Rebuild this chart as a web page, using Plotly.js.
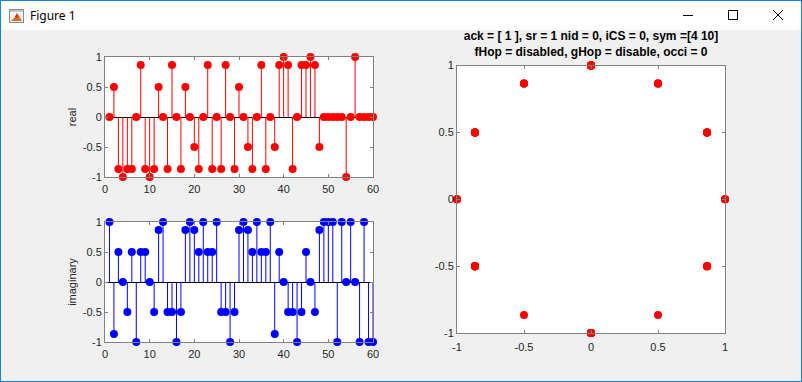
<!DOCTYPE html>
<html>
<head>
<meta charset="utf-8">
<script src="https://cdn.plot.ly/plotly-3.0.1.min.js"></script>
<style>
  html, body { margin: 0; padding: 0; width: 802px; height: 382px; overflow: hidden; background: #f0f0f0; }
  #wrap { position: relative; width: 802px; height: 382px; }
  #chart { position: absolute; left: 0; top: 0; width: 802px; height: 382px; }
  #titlebar { position: absolute; left: 0; top: 0; width: 802px; height: 30px; background: #ffffff; }
  #frame { position: absolute; left: 0; top: 0; width: 800px; height: 380px; border: 1px solid #1883d7; pointer-events: none; }
  #wintitle { position: absolute; left: 30px; top: 7px; font-family: "Noto Sans", "DejaVu Sans", sans-serif; font-size: 12px; color: #000; }
</style>
</head>
<body>
<div id="wrap">
  <div id="chart"></div>
  <div id="titlebar">
    <svg width="802" height="30" style="position:absolute;left:0;top:0">
      <rect x="9.5" y="9.5" width="14" height="13" fill="#f4f4f4" stroke="#8a8a8a" stroke-width="1"/>
      <rect x="10" y="10" width="13" height="2" fill="#b9c9dc"/>
      <polygon points="11,21 15,17 17,13 19,16 22,21" fill="#e36d1c"/>
      <polygon points="15,17 17,13 18,18" fill="#c0392b"/>
      <line x1="683" y1="15.5" x2="693" y2="15.5" stroke="#000" stroke-width="1"/>
      <rect x="728.5" y="10.5" width="9" height="9" fill="none" stroke="#000" stroke-width="1"/>
      <line x1="773" y1="10" x2="783" y2="20" stroke="#000" stroke-width="1"/>
      <line x1="783" y1="10" x2="773" y2="20" stroke="#000" stroke-width="1"/>
    </svg>
    <div id="wintitle">Figure 1</div>
  </div>
  <div id="frame"></div>
</div>
<script>
const sampleIndex = [1,2,3,4,5,6,7,8,9,10,11,12,13,14,15,16,17,18,19,20,
  21,22,23,24,25,26,27,28,29,30,31,32,33,34,35,36,37,38,39,40,
  41,42,43,44,45,46,47,48,49,50,51,52,53,54,55,56,57,58,59,60];

const realVals = [0,0.5,-0.866,-1,-0.866,-0.866,0,0.866,-0.866,-1,
  -0.866,0.5,0,-0.866,0.866,0,-0.866,0.5,0,-0.5,
  -0.866,0,0.866,-0.866,0,-0.866,0.866,0,-0.866,0.5,
  0,-0.5,-0.866,0,0.866,-0.866,0,-0.5,0.866,1,
  0.866,-0.866,0,0.866,0.866,1,0.866,-0.5,0,0,
  0,0,0,-1,0,1,0,0,0,0];

const imagVals = [1,-0.866,0.5,0,-0.5,0.5,-1,0.5,0.5,0,
  -0.5,0.866,1,-0.5,-0.5,-1,-0.5,0.866,1,0.866,
  0.5,1,0.5,0.5,1,-0.5,-0.5,-1,-0.5,0.866,
  1,0.866,0.5,1,0.5,0.5,1,-0.866,0.5,0,
  -0.5,-0.5,-1,-0.5,0.5,0,-0.5,0.866,1,1,
  1,-1,1,0,1,0,-1,1,-1,-1];

const stemTicks = [0,10,20,30,40,50,60];
const valueTicks = [-1,-0.5,0,0.5,1];
const valueTickText = ['-1','-0.5','0','0.5','1'];

const titleText = 'ack = [ 1 ], sr = 1 nid = 0, iCS = 0, sym =[4 10]<br>fHop = disabled, gHop = disable, occi = 0';

function stemLines(xs, ys) {
  const lx = [], ly = [];
  for (let i = 0; i < xs.length; i++) {
    lx.push(xs[i], xs[i], null);
    ly.push(0, ys[i], null);
  }
  return {x: lx, y: ly};
}

const rs = stemLines(sampleIndex, realVals);
const is = stemLines(sampleIndex, imagVals);

const traces = [
  {x: rs.x, y: rs.y, xaxis: 'x', yaxis: 'y', mode: 'lines', type: 'scatter',
   line: {color: '#ff0000', width: 1}, hoverinfo: 'skip', showlegend: false},
  {x: sampleIndex, y: realVals, xaxis: 'x', yaxis: 'y', mode: 'markers', type: 'scatter',
   marker: {color: '#ff0000', size: 8, line: {width: 0}}, cliponaxis: false, showlegend: false},
  {x: is.x, y: is.y, xaxis: 'x2', yaxis: 'y2', mode: 'lines', type: 'scatter',
   line: {color: '#0000ff', width: 1}, hoverinfo: 'skip', showlegend: false},
  {x: sampleIndex, y: imagVals, xaxis: 'x2', yaxis: 'y2', mode: 'markers', type: 'scatter',
   marker: {color: '#0000ff', size: 8, line: {width: 0}}, cliponaxis: false, showlegend: false},
  {x: realVals, y: imagVals, xaxis: 'x3', yaxis: 'y3', mode: 'markers', type: 'scatter',
   marker: {color: '#ff0000', size: 8, line: {width: 0}}, cliponaxis: false, showlegend: false}
];

const W = 802, H = 382;
const tickFont = {family: 'Liberation Sans, Arial, sans-serif', size: 11, color: '#262626'};
function ax(extra) {
  return Object.assign({
    showline: true, linecolor: '#808080', linewidth: 1, mirror: 'ticks',
    ticks: 'inside', ticklen: 3, tickcolor: '#808080', tickwidth: 1,
    showgrid: false, zeroline: false, tickfont: tickFont, automargin: false,
    fixedrange: true
  }, extra);
}

const layout = {
  width: W, height: H,
  margin: {l: 0, r: 0, t: 0, b: 0},
  paper_bgcolor: '#f0f0f0', plot_bgcolor: '#ffffff',
  showlegend: false,
  title: {text: titleText, x: 591 / W, xanchor: 'center', y: 1 - 40 / H, yanchor: 'top',
          font: {family: 'Liberation Sans, Arial, sans-serif', size: 12, color: '#000000', weight: 'bold'}},
  xaxis: ax({domain: [105 / W, 373 / W], range: [0, 60], tickvals: stemTicks, anchor: 'y', ticklabelstandoff: 2}),
  yaxis: ax({domain: [1 - 177 / H, 1 - 57 / H], range: [-1, 1], tickvals: valueTicks, ticktext: valueTickText,
             anchor: 'x', zeroline: true, zerolinecolor: '#000000', zerolinewidth: 1,
             title: {text: 'real', font: {family: 'Liberation Sans, Arial, sans-serif', size: 11, color: '#262626'}, standoff: 3}}),
  xaxis2: ax({domain: [105 / W, 373 / W], range: [0, 60], tickvals: stemTicks, anchor: 'y2', ticklabelstandoff: 2}),
  yaxis2: ax({domain: [1 - 342 / H, 1 - 222 / H], range: [-1, 1], tickvals: valueTicks, ticktext: valueTickText,
              anchor: 'x2', zeroline: true, zerolinecolor: '#000000', zerolinewidth: 1,
              title: {text: 'imaginary', font: {family: 'Liberation Sans, Arial, sans-serif', size: 11, color: '#262626'}, standoff: 3}}),
  xaxis3: ax({domain: [457 / W, 725 / W], range: [-1, 1], tickvals: valueTicks, ticktext: valueTickText, anchor: 'y3', ticklabelstandoff: 4}),
  yaxis3: ax({domain: [1 - 333 / H, 1 - 65.5 / H], range: [-1, 1], tickvals: valueTicks, ticktext: valueTickText, anchor: 'x3'})
};

Plotly.newPlot('chart', traces, layout, {staticPlot: true, displayModeBar: false});
</script>
</body>
</html>
